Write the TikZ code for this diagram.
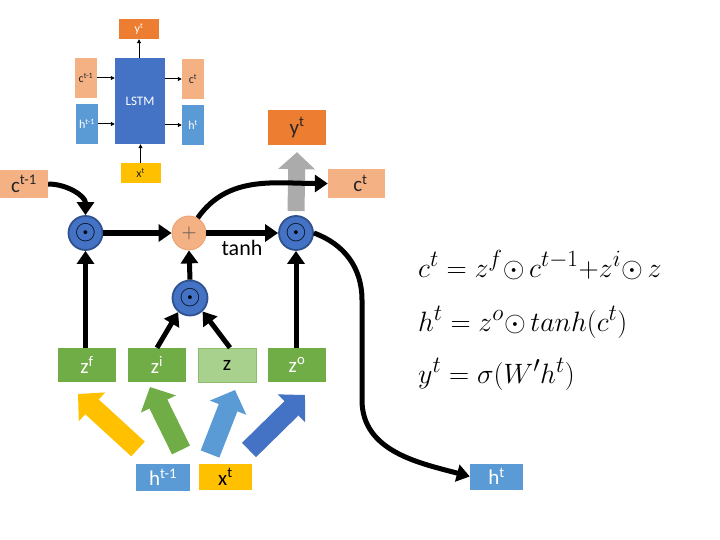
\documentclass[tikz,border=0pt]{standalone}
\usepackage{graphicx}
\usepackage{fontspec}
\setmainfont{Carlito}
\usetikzlibrary{arrows.meta}
\definecolor{orng}{HTML}{ED7D31}
\definecolor{salmon}{HTML}{F4B183}
\definecolor{salmonb}{HTML}{E9A073}
\definecolor{lblue}{HTML}{5B9BD5}
\definecolor{dblue}{HTML}{4472C4}
\definecolor{dblueb}{HTML}{2F528F}
\definecolor{gold}{HTML}{FFC000}
\definecolor{grn}{HTML}{70AD47}
\definecolor{lgrn}{HTML}{A9D18E}
\definecolor{garrow}{HTML}{ABABAB}
\definecolor{txtd}{HTML}{262626}
\newcommand{\myodotsym}{\scalebox{1.1}{$\odot$}}
\newcommand{\myeqline}[1]{\scalebox{1.125}{$#1$}}
\begin{document}
\begin{tikzpicture}[x=1pt,y=1pt,
  box/.style={rectangle, inner sep=0pt, draw=none},
  sbox/.style={box, font=\fontsize{12}{12}\selectfont},
  mbox/.style={box, font=\fontsize{21}{21}\selectfont},
  opcirc/.style={circle, minimum size=34pt, inner sep=0pt, fill=dblue, draw=dblueb, line width=1.8pt, font=\fontsize{24.88}{25}\selectfont},
  pluscirc/.style={circle, minimum size=34pt, inner sep=0pt, fill=salmon, draw=salmonb, line width=0.8pt, text=black!70, font=\fontsize{20}{20}\selectfont},
  conn/.style={line width=5pt, -{Triangle[length=13pt,width=17pt]}},
  sconn/.style={line width=1pt, -{Triangle[length=4pt,width=4pt]}},
  blockarrow/.style={line width=20pt, -{Triangle[length=19pt,width=38pt]}},
  eqn/.style={anchor=base west, inner sep=0pt, font=\fontsize{24.88}{25}\selectfont},
]
\useasboundingbox (0,0) rectangle (720,-540);
% ---- small overview diagram ----
\node[sbox, fill=orng, minimum width=40pt, minimum height=20pt, text=white] (syt) at (139,-29) {y\textsuperscript{t}};
\node[sbox, fill=salmon, minimum width=22pt, minimum height=40pt, text=txtd] (sctm) at (86,-78) {c\textsuperscript{t-1}};
\node[sbox, fill=lblue, minimum width=22pt, minimum height=40pt, text=white] (shtm) at (87,-124) {h\textsuperscript{t-1}};
\node[sbox, fill=dblue, minimum width=50pt, minimum height=86pt, text=white, font=\fontsize{13}{13}\selectfont] (slstm) at (140,-101) {LSTM};
\node[sbox, fill=salmon, minimum width=22pt, minimum height=40pt, text=txtd] (sct) at (193,-79) {c\textsuperscript{t}};
\node[sbox, fill=lblue, minimum width=22pt, minimum height=40pt, text=white] (sht) at (193,-125) {h\textsuperscript{t}};
\node[sbox, fill=gold, minimum width=40pt, minimum height=20pt, text=txtd] (sxt) at (140.5,-173) {x\textsuperscript{t}};
\draw[sconn] (sctm.east) -- (slstm.west |- sctm.east);
\draw[sconn] (shtm.east) -- (slstm.west |- shtm.east);
\draw[sconn] (slstm.east |- sct.west) -- (sct.west);
\draw[sconn] (slstm.east |- sht.west) -- (sht.west);
\draw[sconn] (syt.south |- slstm.north) -- (syt.south);
\draw[sconn] (sxt.north) -- (sxt.north |- slstm.south);
% ---- main diagram ----
\node[mbox, fill=salmon, minimum width=48pt, minimum height=28pt, text=txtd] (ctm) at (24,-184) {c\textsuperscript{t-1}};
\node[mbox, fill=orng, minimum width=58pt, minimum height=35pt, text=txtd] (yt) at (297,-127.5) {y\textsuperscript{t}};
\node[mbox, fill=salmon, minimum width=57pt, minimum height=29pt, text=txtd] (ct) at (356.5,-183.5) {\hspace{8pt}c\textsuperscript{t}};
\node[opcirc] (odotL) at (85.5,-233) {\myodotsym};
\node[pluscirc] (plus) at (189,-233) {$+$};
\node[opcirc] (odotR) at (296,-233) {\myodotsym};
\node[opcirc, minimum size=35pt] (odotM) at (190,-298) {\myodotsym};
\node[font=\fontsize{22}{22}\selectfont, inner sep=0pt] (tanh) at (242,-248) {tanh};
\node[mbox, fill=grn, minimum width=58pt, minimum height=34pt, text=white] (zf) at (87,-365) {z\textsuperscript{f}};
\node[mbox, fill=grn, minimum width=58pt, minimum height=34pt, text=white] (zi) at (157,-365) {z\textsuperscript{i}};
\node[mbox, fill=lgrn, draw=grn!80, line width=0.6pt, minimum width=58pt, minimum height=34pt, text=black] (z) at (227,-365) {z};
\node[mbox, fill=grn, minimum width=58pt, minimum height=34pt, text=white] (zo) at (297,-365) {z\textsuperscript{o}};
\node[mbox, fill=lblue, minimum width=54pt, minimum height=27pt, text=white] (htm) at (163,-477.5) {h\textsuperscript{t-1}};
\node[mbox, fill=gold, minimum width=53pt, minimum height=26pt, text=black] (xt) at (225.5,-477) {x\textsuperscript{t}};
\node[mbox, fill=lblue, minimum width=53pt, minimum height=26pt, text=white] (ht) at (496.5,-476.5) {h\textsuperscript{t}};
% block arrows
\coordinate (ya) at (138,-449); \coordinate (yb) at (78,-394);
\coordinate (ga) at (181,-450); \coordinate (gb) at (150,-387);
\coordinate (la) at (210,-454); \coordinate (lb) at (235,-390);
\coordinate (da) at (249,-450); \coordinate (db) at (305,-395);
\draw[blockarrow, draw=gold, fill=gold] (ya) -- (yb);
\draw[blockarrow, draw=grn, fill=grn] (ga) -- (gb);
\draw[blockarrow, draw=lblue, fill=lblue] (la) -- (lb);
\draw[blockarrow, draw=dblue, fill=dblue] (da) -- (db);
% gray arrow to y^t
\draw[line width=17pt, draw=garrow, fill=garrow, -{Triangle[length=17pt,width=36pt]}] ([yshift=4pt]odotR.north) -- ([yshift=-7pt]yt.south);
% connectors
\draw[conn] (ctm.east) to[out=0,in=90] (odotL.north);
\draw[conn] (odotL.east) -- (plus.west);
\draw[conn] (plus.east) -- (odotR.west);
\draw[conn] (plus.60) to[out=55,in=180] (ct.west);
\coordinate (bendA) at (362,-300);
\coordinate (bendB) at (362,-400);
\draw[conn] (odotR.east) to[out=-20,in=90] (bendA) -- (bendB) to[out=-90,in=165] (ht.west);
\draw[conn] (odotL.south |- zf.north) -- (odotL.south);
\draw[conn] (zi.north) -- (odotM.230);
\draw[conn] ([xshift=3pt]z.north) -- (odotM.313);
\draw[conn] (odotM.north) -- (plus.south);
\draw[conn] (odotR.south |- zo.north) -- (odotR.south);
% equations
\begingroup\medmuskip=1mu
\node[eqn] (eq1) at (418,-277) {\myeqline{c^t = z^f{\odot}\,c^{t-1}{+}z^i{\odot}\,z}};
\node[eqn] (eq2) at (418,-331) {\myeqline{h^t = z^o{\odot}\,tanh(c^t)}};
\node[eqn] (eq3) at (418,-383) {\myeqline{y^t = \sigma(W'h^t)}};
\endgroup
\end{tikzpicture}
\end{document}
